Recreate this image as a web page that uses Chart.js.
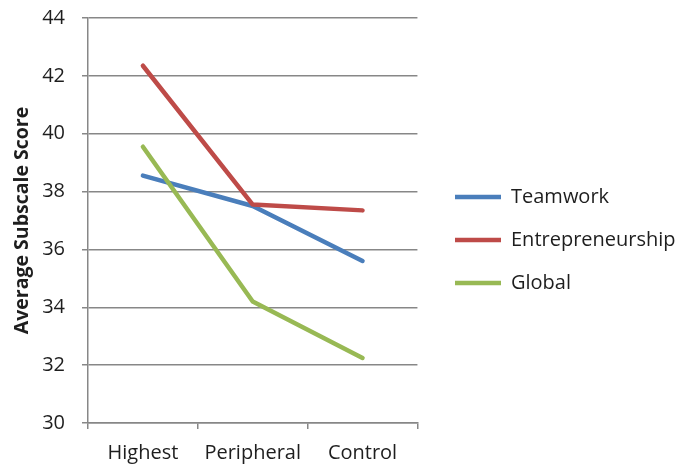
<!DOCTYPE html>
<html lang="en">
<head>
  <meta charset="UTF-8" />
  <title>Average Subscale Score</title>
  <script src="https://cdn.jsdelivr.net/npm/chart.js"></script>
  <style>
    body { margin: 0; background: #fff; }
    #wrap { width: 681px; height: 466px; position: relative; }
  </style>
</head>
<body>
  <div id="wrap"><canvas id="scoreChart"></canvas></div>

<script>
  const categories = ["Highest", "Peripheral", "Control"];
  const teamwork = [38.55, 37.5, 35.6];
  const entrepreneurship = [42.35, 37.55, 37.35];
  const global = [39.55, 34.2, 32.25];
  const yTicks = [30, 32, 34, 36, 38, 40, 42, 44];

  const gridGray = "#878787";
  const textColor = "#1e1e1e";
  const font = "'Open Sans', sans-serif";

  function line(label, data, color, order) {
    return {
      label: label,
      data: data,
      borderColor: color,
      backgroundColor: color,
      borderWidth: 4.5,
      borderCapStyle: "round",
      borderJoinStyle: "round",
      pointRadius: 0,
      tension: 0,
      order: order
    };
  }

  // place the legend block where the original has it
  const legendShift = {
    id: "legendShift",
    afterLayout(chart) {
      const lg = chart.legend;
      const dx = 432 - lg.left;
      const dy = 240 - (lg.top + lg.bottom) / 2;
      lg.left += dx;
      lg.right += dx;
      lg.top += dy;
      lg.bottom += dy;
    }
  };

  new Chart(document.getElementById("scoreChart"), {
    type: "line",
    data: {
      labels: categories,
      datasets: [
        line("Teamwork", teamwork, "#4A7EBB", 3),
        line("Entrepreneurship", entrepreneurship, "#BE4B48", 2),
        line("Global", global, "#98B954", 1)
      ]
    },
    plugins: [legendShift],
    options: {
      responsive: true,
      maintainAspectRatio: false,
      animation: false,
      layout: { padding: { top: 18, right: 10, bottom: 0, left: 0 } },
      plugins: {
        tooltip: { enabled: false },
        legend: {
          position: "right",
          maxWidth: 400,
          labels: {
            usePointStyle: true,
            pointStyle: "line",
            pointStyleWidth: 46,
            boxHeight: 20,
            padding: 23,
            color: textColor,
            font: { family: font, size: 20 },
            sort: (a, b) => a.datasetIndex - b.datasetIndex
          }
        }
      },
      scales: {
        x: {
          offset: true,
          afterFit: (scale) => {
            scale.height = 43;
            scale.paddingLeft = 0;
            scale.paddingRight = 0;
          },
          grid: {
            display: true,
            offset: true,
            drawOnChartArea: false,
            drawTicks: true,
            tickLength: 6,
            color: gridGray,
            lineWidth: 1.5
          },
          border: { color: gridGray, width: 1.5 },
          ticks: {
            color: textColor,
            padding: 12,
            font: { family: font, size: 20 }
          }
        },
        y: {
          min: 30,
          max: 44,
          afterFit: (scale) => {
            scale.width = 88;
            scale.paddingTop = 0;
            scale.paddingBottom = 0;
          },
          afterBuildTicks: (axis) => {
            axis.ticks = yTicks.map(v => ({ value: v }));
          },
          grid: {
            color: gridGray,
            lineWidth: 1.5,
            tickLength: 6
          },
          border: { color: gridGray, width: 1.5 },
          ticks: {
            color: textColor,
            padding: 17,
            font: { family: font, size: 20 }
          },
          title: {
            display: true,
            text: "Average Subscale Score",
            color: textColor,
            padding: { top: 11, bottom: 0 },
            font: { family: font, size: 19.5, weight: "bold" }
          }
        }
      }
    }
  });
</script>
</body>
</html>
